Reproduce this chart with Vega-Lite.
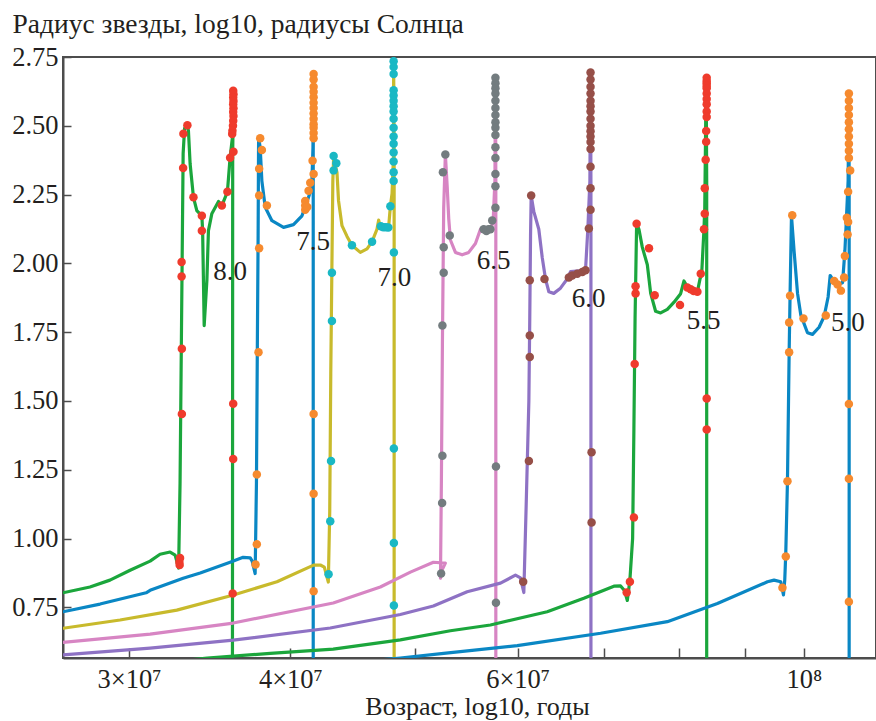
{
  "$schema": "https://vega.github.io/schema/vega-lite/v6.json",
  "width": 813,
  "height": 601,
  "autosize": "none",
  "padding": {"left": 63, "top": 57, "right": 0, "bottom": 63},
  "background": "white",
  "config": {
    "font": "Liberation Serif",
    "view": {"stroke": "#4d4d4d", "strokeWidth": 2},
    "axis": {
      "grid": false,
      "domainColor": "#4d4d4d",
      "domainWidth": 2,
      "tickColor": "#4d4d4d",
      "tickWidth": 1.5,
      "labelFont": "Liberation Serif",
      "labelFontSize": 26.5,
      "labelColor": "#231f20",
      "titleFont": "Liberation Serif",
      "titleFontSize": 26,
      "titleFontWeight": "normal",
      "titleColor": "#231f20"
    }
  },
  "datasets": {
    "tracks": [
      {"m":"8.0","lg":7.4259,"r":0.803},{"m":"8.0","lg":7.4468,"r":0.824},{"m":"8.0","lg":7.4623,"r":0.849},{"m":"8.0","lg":7.4779,"r":0.885},{"m":"8.0","lg":7.4934,"r":0.918},{"m":"8.0","lg":7.5011,"r":0.943},{"m":"8.0","lg":7.5089,"r":0.951},{"m":"8.0","lg":7.5128,"r":0.940},{"m":"8.0","lg":7.5155,"r":0.893},{"m":"8.0","lg":7.5166,"r":1.20},{"m":"8.0","lg":7.5174,"r":1.60},{"m":"8.0","lg":7.5182,"r":2.00},{"m":"8.0","lg":7.5190,"r":2.40},{"m":"8.0","lg":7.5201,"r":2.49},{"m":"8.0","lg":7.5218,"r":2.506},{"m":"8.0","lg":7.5231,"r":2.482},{"m":"8.0","lg":7.5244,"r":2.362},{"m":"8.0","lg":7.5270,"r":2.240},{"m":"8.0","lg":7.5296,"r":2.192},{"m":"8.0","lg":7.5335,"r":2.173},{"m":"8.0","lg":7.5341,"r":2.119},{"m":"8.0","lg":7.5353,"r":1.774},{"m":"8.0","lg":7.5374,"r":1.938},{"m":"8.0","lg":7.5386,"r":2.119},{"m":"8.0","lg":7.5412,"r":2.180},{"m":"8.0","lg":7.5464,"r":2.225},{"m":"8.0","lg":7.5490,"r":2.210},{"m":"8.0","lg":7.5533,"r":2.260},{"m":"8.0","lg":7.5554,"r":2.385},{"m":"8.0","lg":7.5575,"r":2.470},{"m":"8.0","lg":7.5580,"r":2.630},{"m":"8.0","lg":7.5574,"r":2.400},{"m":"8.0","lg":7.5572,"r":0.400},

      {"m":"7.5","lg":7.4259,"r":0.734},{"m":"7.5","lg":7.4546,"r":0.762},{"m":"7.5","lg":7.4903,"r":0.803},{"m":"7.5","lg":7.4934,"r":0.812},{"m":"7.5","lg":7.5190,"r":0.856},{"m":"7.5","lg":7.5322,"r":0.875},{"m":"7.5","lg":7.5554,"r":0.914},{"m":"7.5","lg":7.5655,"r":0.932},{"m":"7.5","lg":7.5710,"r":0.930},{"m":"7.5","lg":7.5725,"r":0.918},{"m":"7.5","lg":7.5748,"r":0.873},{"m":"7.5","lg":7.5758,"r":1.20},{"m":"7.5","lg":7.5765,"r":1.70},{"m":"7.5","lg":7.5771,"r":2.10},{"m":"7.5","lg":7.5774,"r":2.40},{"m":"7.5","lg":7.5775,"r":2.457},{"m":"7.5","lg":7.5787,"r":2.421},{"m":"7.5","lg":7.5800,"r":2.300},{"m":"7.5","lg":7.5826,"r":2.204},{"m":"7.5","lg":7.5878,"r":2.155},{"m":"7.5","lg":7.5968,"r":2.131},{"m":"7.5","lg":7.6045,"r":2.141},{"m":"7.5","lg":7.6111,"r":2.173},{"m":"7.5","lg":7.6144,"r":2.216},{"m":"7.5","lg":7.6170,"r":2.252},{"m":"7.5","lg":7.6188,"r":2.300},{"m":"7.5","lg":7.6196,"r":2.421},{"m":"7.5","lg":7.6201,"r":2.690},{"m":"7.5","lg":7.6198,"r":2.400},{"m":"7.5","lg":7.6198,"r":0.400},

      {"m":"7.0","lg":7.4259,"r":0.674},{"m":"7.0","lg":7.4701,"r":0.704},{"m":"7.0","lg":7.5141,"r":0.740},{"m":"7.0","lg":7.5580,"r":0.795},{"m":"7.0","lg":7.5917,"r":0.843},{"m":"7.0","lg":7.6201,"r":0.9035},{"m":"7.0","lg":7.6253,"r":0.904},{"m":"7.0","lg":7.6284,"r":0.896},{"m":"7.0","lg":7.6315,"r":0.842},{"m":"7.0","lg":7.6326,"r":1.10},{"m":"7.0","lg":7.6334,"r":1.60},{"m":"7.0","lg":7.6343,"r":2.00},{"m":"7.0","lg":7.6350,"r":2.30},{"m":"7.0","lg":7.6356,"r":2.383},{"m":"7.0","lg":7.6382,"r":2.331},{"m":"7.0","lg":7.6394,"r":2.228},{"m":"7.0","lg":7.6421,"r":2.137},{"m":"7.0","lg":7.6460,"r":2.098},{"m":"7.0","lg":7.6498,"r":2.066},{"m":"7.0","lg":7.6563,"r":2.040},{"m":"7.0","lg":7.6615,"r":2.053},{"m":"7.0","lg":7.6654,"r":2.079},{"m":"7.0","lg":7.6692,"r":2.124},{"m":"7.0","lg":7.6705,"r":2.157},{"m":"7.0","lg":7.6718,"r":2.131},{"m":"7.0","lg":7.6782,"r":2.131},{"m":"7.0","lg":7.6796,"r":2.208},{"m":"7.0","lg":7.6809,"r":2.254},{"m":"7.0","lg":7.6821,"r":2.400},{"m":"7.0","lg":7.6821,"r":2.735},{"m":"7.0","lg":7.6825,"r":2.400},{"m":"7.0","lg":7.6825,"r":0.400},

      {"m":"6.5","lg":7.4259,"r":0.623},{"m":"6.5","lg":7.4934,"r":0.653},{"m":"6.5","lg":7.5578,"r":0.693},{"m":"6.5","lg":7.6353,"r":0.766},{"m":"6.5","lg":7.6718,"r":0.824},{"m":"6.5","lg":7.6951,"r":0.878},{"m":"6.5","lg":7.7129,"r":0.914},{"m":"6.5","lg":7.7222,"r":0.911},{"m":"6.5","lg":7.7195,"r":0.885},{"m":"6.5","lg":7.7184,"r":0.856},{"m":"6.5","lg":7.7191,"r":1.20},{"m":"6.5","lg":7.7199,"r":1.70},{"m":"6.5","lg":7.7209,"r":2.20},{"m":"6.5","lg":7.7222,"r":2.396},{"m":"6.5","lg":7.7236,"r":2.280},{"m":"6.5","lg":7.7248,"r":2.163},{"m":"6.5","lg":7.7261,"r":2.085},{"m":"6.5","lg":7.7300,"r":2.040},{"m":"6.5","lg":7.7352,"r":2.031},{"m":"6.5","lg":7.7403,"r":2.040},{"m":"6.5","lg":7.7455,"r":2.072},{"m":"6.5","lg":7.7494,"r":2.124},{"m":"6.5","lg":7.7517,"r":2.130},{"m":"6.5","lg":7.7571,"r":2.124},{"m":"6.5","lg":7.7592,"r":2.150},{"m":"6.5","lg":7.7606,"r":2.300},{"m":"6.5","lg":7.7610,"r":2.680},{"m":"6.5","lg":7.7613,"r":2.300},{"m":"6.5","lg":7.7613,"r":0.400},

      {"m":"6.0","lg":7.4259,"r":0.577},{"m":"6.0","lg":7.4934,"r":0.602},{"m":"6.0","lg":7.5578,"r":0.631},{"m":"6.0","lg":7.6330,"r":0.675},{"m":"6.0","lg":7.6873,"r":0.724},{"m":"6.0","lg":7.7129,"r":0.755},{"m":"6.0","lg":7.7391,"r":0.807},{"m":"6.0","lg":7.7649,"r":0.838},{"m":"6.0","lg":7.7765,"r":0.867},{"m":"6.0","lg":7.7804,"r":0.857},{"m":"6.0","lg":7.7830,"r":0.804},{"m":"6.0","lg":7.7847,"r":1.10},{"m":"6.0","lg":7.7869,"r":1.50},{"m":"6.0","lg":7.7876,"r":1.80},{"m":"6.0","lg":7.7882,"r":2.10},{"m":"6.0","lg":7.7887,"r":2.247},{"m":"6.0","lg":7.7907,"r":2.189},{"m":"6.0","lg":7.7946,"r":2.124},{"m":"6.0","lg":7.7973,"r":2.020},{"m":"6.0","lg":7.7998,"r":1.943},{"m":"6.0","lg":7.8024,"r":1.897},{"m":"6.0","lg":7.8062,"r":1.891},{"m":"6.0","lg":7.8114,"r":1.910},{"m":"6.0","lg":7.8166,"r":1.943},{"m":"6.0","lg":7.8192,"r":1.970},{"m":"6.0","lg":7.8308,"r":1.975},{"m":"6.0","lg":7.8326,"r":2.124},{"m":"6.0","lg":7.8342,"r":2.300},{"m":"6.0","lg":7.8347,"r":2.690},{"m":"6.0","lg":7.8350,"r":2.300},{"m":"6.0","lg":7.8350,"r":0.400},

      {"m":"5.5","lg":7.5166,"r":0.555},{"m":"5.5","lg":7.5376,"r":0.566},{"m":"5.5","lg":7.5865,"r":0.583},{"m":"5.5","lg":7.6353,"r":0.598},{"m":"5.5","lg":7.6873,"r":0.632},{"m":"5.5","lg":7.7261,"r":0.665},{"m":"5.5","lg":7.7571,"r":0.686},{"m":"5.5","lg":7.8011,"r":0.734},{"m":"5.5","lg":7.8295,"r":0.783},{"m":"5.5","lg":7.8528,"r":0.827},{"m":"5.5","lg":7.8580,"r":0.828},{"m":"5.5","lg":7.8611,"r":0.810},{"m":"5.5","lg":7.8632,"r":0.775},{"m":"5.5","lg":7.8652,"r":0.850},{"m":"5.5","lg":7.8673,"r":1.000},{"m":"5.5","lg":7.8683,"r":1.400},{"m":"5.5","lg":7.8692,"r":1.800},{"m":"5.5","lg":7.8704,"r":2.144},{"m":"5.5","lg":7.8722,"r":2.124},{"m":"5.5","lg":7.8748,"r":2.059},{"m":"5.5","lg":7.8787,"r":1.995},{"m":"5.5","lg":7.8813,"r":1.891},{"m":"5.5","lg":7.8851,"r":1.826},{"m":"5.5","lg":7.8890,"r":1.820},{"m":"5.5","lg":7.8942,"r":1.833},{"m":"5.5","lg":7.8994,"r":1.859},{"m":"5.5","lg":7.9045,"r":1.890},{"m":"5.5","lg":7.9071,"r":1.936},{"m":"5.5","lg":7.9097,"r":1.915},{"m":"5.5","lg":7.9175,"r":1.897},{"m":"5.5","lg":7.9195,"r":1.943},{"m":"5.5","lg":7.9208,"r":1.960},{"m":"5.5","lg":7.9226,"r":2.124},{"m":"5.5","lg":7.9232,"r":2.200},{"m":"5.5","lg":7.9243,"r":2.670},{"m":"5.5","lg":7.9247,"r":2.300},{"m":"5.5","lg":7.9247,"r":0.400},

      {"m":"5.0","lg":7.6563,"r":0.552},{"m":"5.0","lg":7.6873,"r":0.566},{"m":"5.0","lg":7.7209,"r":0.583},{"m":"5.0","lg":7.7779,"r":0.611},{"m":"5.0","lg":7.8425,"r":0.656},{"m":"5.0","lg":7.8942,"r":0.698},{"m":"5.0","lg":7.9330,"r":0.764},{"m":"5.0","lg":7.9718,"r":0.843},{"m":"5.0","lg":7.9769,"r":0.849},{"m":"5.0","lg":7.9821,"r":0.843},{"m":"5.0","lg":7.9842,"r":0.795},{"m":"5.0","lg":7.9852,"r":0.850},{"m":"5.0","lg":7.9860,"r":0.950},{"m":"5.0","lg":7.9873,"r":1.210},{"m":"5.0","lg":7.9886,"r":1.677},{"m":"5.0","lg":7.9893,"r":1.882},{"m":"5.0","lg":7.9904,"r":2.173},{"m":"5.0","lg":7.9924,"r":2.046},{"m":"5.0","lg":7.9951,"r":1.891},{"m":"5.0","lg":7.9976,"r":1.813},{"m":"5.0","lg":8.0028,"r":1.748},{"m":"5.0","lg":8.0067,"r":1.742},{"m":"5.0","lg":8.0118,"r":1.768},{"m":"5.0","lg":8.0157,"r":1.807},{"m":"5.0","lg":8.0188,"r":1.878},{"m":"5.0","lg":8.0204,"r":1.956},{"m":"5.0","lg":8.0222,"r":1.943},{"m":"5.0","lg":8.0261,"r":1.923},{"m":"5.0","lg":8.0300,"r":1.930},{"m":"5.0","lg":8.0318,"r":2.046},{"m":"5.0","lg":8.0326,"r":2.124},{"m":"5.0","lg":8.0343,"r":2.300},{"m":"5.0","lg":8.0349,"r":2.620},{"m":"5.0","lg":8.0351,"r":2.300},{"m":"5.0","lg":8.0351,"r":0.400}
    ],
    "models": [
      {"m":"8.0","lg":7.5161,"r":0.915},{"m":"8.0","lg":7.5166,"r":0.929},{"m":"8.0","lg":7.5163,"r":0.904},{"m":"8.0","lg":7.5180,"r":1.453},{"m":"8.0","lg":7.5180,"r":1.690},{"m":"8.0","lg":7.5178,"r":1.952},{"m":"8.0","lg":7.5178,"r":2.005},{"m":"8.0","lg":7.5190,"r":2.347},{"m":"8.0","lg":7.5192,"r":2.471},{"m":"8.0","lg":7.5223,"r":2.502},{"m":"8.0","lg":7.5270,"r":2.240},{"m":"8.0","lg":7.5335,"r":2.173},{"m":"8.0","lg":7.5335,"r":2.119},{"m":"8.0","lg":7.5490,"r":2.210},{"m":"8.0","lg":7.5533,"r":2.260},{"m":"8.0","lg":7.5554,"r":2.384},{"m":"8.0","lg":7.5580,"r":2.406},
      {"m":"8.0","lg":7.5578,"r":2.627},{"m":"8.0","lg":7.5580,"r":2.615},{"m":"8.0","lg":7.5578,"r":2.603},{"m":"8.0","lg":7.5580,"r":2.590},{"m":"8.0","lg":7.5578,"r":2.578},{"m":"8.0","lg":7.5580,"r":2.564},{"m":"8.0","lg":7.5578,"r":2.550},{"m":"8.0","lg":7.5580,"r":2.536},{"m":"8.0","lg":7.5578,"r":2.518},{"m":"8.0","lg":7.5576,"r":2.500},{"m":"8.0","lg":7.5572,"r":2.482},{"m":"8.0","lg":7.5570,"r":2.470},
      {"m":"8.0","lg":7.5578,"r":1.490},{"m":"8.0","lg":7.5578,"r":1.289},{"m":"8.0","lg":7.5574,"r":0.800},

      {"m":"7.5","lg":7.5751,"r":0.906},{"m":"7.5","lg":7.5761,"r":0.979},{"m":"7.5","lg":7.5761,"r":1.233},{"m":"7.5","lg":7.5774,"r":1.677},{"m":"7.5","lg":7.5779,"r":2.055},{"m":"7.5","lg":7.5779,"r":2.247},{"m":"7.5","lg":7.5779,"r":2.344},{"m":"7.5","lg":7.5800,"r":2.412},{"m":"7.5","lg":7.5787,"r":2.4545},{"m":"7.5","lg":7.5839,"r":2.210},{"m":"7.5","lg":7.6136,"r":2.227},{"m":"7.5","lg":7.6136,"r":2.210},{"m":"7.5","lg":7.6136,"r":2.195},{"m":"7.5","lg":7.6152,"r":2.205},{"m":"7.5","lg":7.6162,"r":2.264},{"m":"7.5","lg":7.6175,"r":2.293},{"m":"7.5","lg":7.6201,"r":2.325},{"m":"7.5","lg":7.6193,"r":2.373},
      {"m":"7.5","lg":7.6201,"r":2.688},{"m":"7.5","lg":7.6201,"r":2.668},{"m":"7.5","lg":7.6201,"r":2.642},{"m":"7.5","lg":7.6201,"r":2.624},{"m":"7.5","lg":7.6201,"r":2.604},{"m":"7.5","lg":7.6201,"r":2.584},{"m":"7.5","lg":7.6201,"r":2.565},{"m":"7.5","lg":7.6201,"r":2.545},{"m":"7.5","lg":7.6201,"r":2.526},{"m":"7.5","lg":7.6201,"r":2.506},{"m":"7.5","lg":7.6201,"r":2.493},{"m":"7.5","lg":7.6201,"r":2.474},{"m":"7.5","lg":7.6201,"r":2.455},
      {"m":"7.5","lg":7.6201,"r":1.453},{"m":"7.5","lg":7.6201,"r":1.163},{"m":"7.5","lg":7.6201,"r":0.809},

      {"m":"7.0","lg":7.6317,"r":0.870},{"m":"7.0","lg":7.6330,"r":1.063},{"m":"7.0","lg":7.6336,"r":1.282},{"m":"7.0","lg":7.6343,"r":1.791},{"m":"7.0","lg":7.6343,"r":1.966},{"m":"7.0","lg":7.6356,"r":2.338},{"m":"7.0","lg":7.6356,"r":2.390},{"m":"7.0","lg":7.6377,"r":2.364},{"m":"7.0","lg":7.6498,"r":2.066},{"m":"7.0","lg":7.6654,"r":2.079},{"m":"7.0","lg":7.6722,"r":2.135},{"m":"7.0","lg":7.6741,"r":2.131},{"m":"7.0","lg":7.6761,"r":2.131},{"m":"7.0","lg":7.6780,"r":2.130},{"m":"7.0","lg":7.6796,"r":2.208},
      {"m":"7.0","lg":7.6821,"r":2.735},{"m":"7.0","lg":7.6821,"r":2.714},{"m":"7.0","lg":7.6821,"r":2.688},{"m":"7.0","lg":7.6821,"r":2.629},{"m":"7.0","lg":7.6821,"r":2.610},{"m":"7.0","lg":7.6821,"r":2.591},{"m":"7.0","lg":7.6821,"r":2.571},{"m":"7.0","lg":7.6821,"r":2.552},{"m":"7.0","lg":7.6821,"r":2.526},{"m":"7.0","lg":7.6821,"r":2.493},{"m":"7.0","lg":7.6821,"r":2.461},{"m":"7.0","lg":7.6821,"r":2.435},{"m":"7.0","lg":7.6821,"r":2.403},{"m":"7.0","lg":7.6821,"r":2.370},{"m":"7.0","lg":7.6821,"r":2.331},{"m":"7.0","lg":7.6821,"r":2.299},
      {"m":"7.0","lg":7.6823,"r":2.040},{"m":"7.0","lg":7.6823,"r":1.327},{"m":"7.0","lg":7.6823,"r":0.984},{"m":"7.0","lg":7.6823,"r":0.757},

      {"m":"6.5","lg":7.7189,"r":0.873},{"m":"6.5","lg":7.7197,"r":1.129},{"m":"6.5","lg":7.7199,"r":1.301},{"m":"6.5","lg":7.7199,"r":1.774},{"m":"6.5","lg":7.7209,"r":1.966},{"m":"6.5","lg":7.7209,"r":2.059},{"m":"6.5","lg":7.7256,"r":2.101},{"m":"6.5","lg":7.7203,"r":2.331},{"m":"6.5","lg":7.7222,"r":2.396},{"m":"6.5","lg":7.7519,"r":2.124},{"m":"6.5","lg":7.7540,"r":2.118},{"m":"6.5","lg":7.7556,"r":2.124},{"m":"6.5","lg":7.7571,"r":2.124},{"m":"6.5","lg":7.7585,"r":2.156},{"m":"6.5","lg":7.7610,"r":2.202},
      {"m":"6.5","lg":7.7610,"r":2.675},{"m":"6.5","lg":7.7610,"r":2.655},{"m":"6.5","lg":7.7610,"r":2.636},{"m":"6.5","lg":7.7610,"r":2.617},{"m":"6.5","lg":7.7610,"r":2.591},{"m":"6.5","lg":7.7610,"r":2.565},{"m":"6.5","lg":7.7610,"r":2.539},{"m":"6.5","lg":7.7610,"r":2.513},{"m":"6.5","lg":7.7610,"r":2.493},{"m":"6.5","lg":7.7610,"r":2.467},{"m":"6.5","lg":7.7610,"r":2.422},{"m":"6.5","lg":7.7610,"r":2.383},{"m":"6.5","lg":7.7610,"r":2.325},{"m":"6.5","lg":7.7610,"r":2.280},
      {"m":"6.5","lg":7.7614,"r":1.262},{"m":"6.5","lg":7.7614,"r":0.767},

      {"m":"6.0","lg":7.7825,"r":0.843},{"m":"6.0","lg":7.7869,"r":1.282},{"m":"6.0","lg":7.7876,"r":1.660},{"m":"6.0","lg":7.7876,"r":1.738},{"m":"6.0","lg":7.7876,"r":1.939},{"m":"6.0","lg":7.7887,"r":2.247},{"m":"6.0","lg":7.7990,"r":1.943},{"m":"6.0","lg":7.8179,"r":1.949},{"m":"6.0","lg":7.8205,"r":1.956},{"m":"6.0","lg":7.8244,"r":1.962},{"m":"6.0","lg":7.8283,"r":1.969},{"m":"6.0","lg":7.8308,"r":1.975},{"m":"6.0","lg":7.8334,"r":2.127},
      {"m":"6.0","lg":7.8347,"r":2.694},{"m":"6.0","lg":7.8347,"r":2.668},{"m":"6.0","lg":7.8347,"r":2.642},{"m":"6.0","lg":7.8347,"r":2.617},{"m":"6.0","lg":7.8347,"r":2.591},{"m":"6.0","lg":7.8347,"r":2.571},{"m":"6.0","lg":7.8347,"r":2.552},{"m":"6.0","lg":7.8347,"r":2.526},{"m":"6.0","lg":7.8347,"r":2.500},{"m":"6.0","lg":7.8347,"r":2.480},{"m":"6.0","lg":7.8347,"r":2.461},{"m":"6.0","lg":7.8347,"r":2.441},{"m":"6.0","lg":7.8347,"r":2.416},{"m":"6.0","lg":7.8347,"r":2.351},{"m":"6.0","lg":7.8347,"r":2.273},{"m":"6.0","lg":7.8347,"r":2.195},
      {"m":"6.0","lg":7.8355,"r":1.314},{"m":"6.0","lg":7.8355,"r":1.058},

      {"m":"5.5","lg":7.8627,"r":0.804},{"m":"5.5","lg":7.8652,"r":0.8435},{"m":"5.5","lg":7.8683,"r":1.077},{"m":"5.5","lg":7.8689,"r":1.634},{"m":"5.5","lg":7.8696,"r":1.917},{"m":"5.5","lg":7.8696,"r":1.891},{"m":"5.5","lg":7.8704,"r":2.144},{"m":"5.5","lg":7.8800,"r":2.055},{"m":"5.5","lg":7.8844,"r":1.884},{"m":"5.5","lg":7.9040,"r":1.849},{"m":"5.5","lg":7.9097,"r":1.912},{"m":"5.5","lg":7.9123,"r":1.906},{"m":"5.5","lg":7.9146,"r":1.900},{"m":"5.5","lg":7.9175,"r":1.897},{"m":"5.5","lg":7.9201,"r":1.962},{"m":"5.5","lg":7.9226,"r":2.124},{"m":"5.5","lg":7.9232,"r":2.180},{"m":"5.5","lg":7.9232,"r":2.273},{"m":"5.5","lg":7.9239,"r":2.377},{"m":"5.5","lg":7.9243,"r":2.442},{"m":"5.5","lg":7.9243,"r":2.481},
      {"m":"5.5","lg":7.9247,"r":2.675},{"m":"5.5","lg":7.9247,"r":2.663},{"m":"5.5","lg":7.9247,"r":2.655},{"m":"5.5","lg":7.9247,"r":2.645},{"m":"5.5","lg":7.9247,"r":2.636},{"m":"5.5","lg":7.9247,"r":2.617},{"m":"5.5","lg":7.9247,"r":2.597},{"m":"5.5","lg":7.9247,"r":2.578},{"m":"5.5","lg":7.9247,"r":2.552},{"m":"5.5","lg":7.9247,"r":2.532},
      {"m":"5.5","lg":7.9247,"r":1.509},{"m":"5.5","lg":7.9247,"r":1.396},

      {"m":"5.0","lg":7.9834,"r":0.821},{"m":"5.0","lg":7.9860,"r":0.935},{"m":"5.0","lg":7.9873,"r":1.208},{"m":"5.0","lg":7.9886,"r":1.677},{"m":"5.0","lg":7.9886,"r":1.785},{"m":"5.0","lg":7.9893,"r":1.882},{"m":"5.0","lg":7.9910,"r":2.175},{"m":"5.0","lg":7.9997,"r":1.800},{"m":"5.0","lg":8.0170,"r":1.811},{"m":"5.0","lg":8.0235,"r":1.936},{"m":"5.0","lg":8.0261,"r":1.923},{"m":"5.0","lg":8.0287,"r":1.901},{"m":"5.0","lg":8.0312,"r":1.949},{"m":"5.0","lg":8.0318,"r":2.027},{"m":"5.0","lg":8.0339,"r":2.105},{"m":"5.0","lg":8.0343,"r":2.150},{"m":"5.0","lg":8.0333,"r":2.166},{"m":"5.0","lg":8.0343,"r":2.260},{"m":"5.0","lg":8.0359,"r":2.338},
      {"m":"5.0","lg":8.0349,"r":2.617},{"m":"5.0","lg":8.0349,"r":2.591},{"m":"5.0","lg":8.0349,"r":2.565},{"m":"5.0","lg":8.0349,"r":2.539},{"m":"5.0","lg":8.0349,"r":2.513},{"m":"5.0","lg":8.0349,"r":2.487},{"m":"5.0","lg":8.0349,"r":2.461},{"m":"5.0","lg":8.0349,"r":2.435},{"m":"5.0","lg":8.0349,"r":2.409},{"m":"5.0","lg":8.0349,"r":2.383},
      {"m":"5.0","lg":8.0349,"r":1.489},{"m":"5.0","lg":8.0349,"r":1.217},{"m":"5.0","lg":8.0349,"r":0.770}
    ],
    "masses": [
      {"m":"8.0","lg":7.5555,"r":1.967},
      {"m":"7.5","lg":7.6198,"r":2.079},
      {"m":"7.0","lg":7.6827,"r":1.948},
      {"m":"6.5","lg":7.7595,"r":2.010},
      {"m":"6.0","lg":7.8332,"r":1.872},
      {"m":"5.5","lg":7.9224,"r":1.792},
      {"m":"5.0","lg":8.0341,"r":1.785}
    ]
  },
  "encoding": {
    "x": {
      "field": "lg",
      "type": "quantitative",
      "scale": {"domain": [7.4259, 8.0559], "nice": false, "zero": false},
      "axis": {
        "title": "Возраст, log10, годы",
        "values": [7.4771, 7.6021, 7.699, 7.7782, 7.8451, 7.9031, 7.9542, 8.0],
        "labelExpr": "datum.value < 7.5 ? '3×10⁷' : datum.value < 7.65 ? '4×10⁷' : (datum.value > 7.77 && datum.value < 7.79) ? '6×10⁷' : datum.value > 7.99 ? '10⁸' : ''",
        "labelOverlap": false,
        "labelFlush": false,
        "tickSize": -10,
        "labelPadding": 18,
        "labelBaseline": "top",
        "titleX": 414,
        "titleY": 56,
        "titleAlign": "center",
        "titleBaseline": "alphabetic"
      }
    },
    "y": {
      "field": "r",
      "type": "quantitative",
      "scale": {"domain": [0.566, 2.75], "nice": false, "zero": false},
      "axis": {
        "title": "Радиус звезды, log10, радиусы Солнца",
        "titleFontSize": 27.5,
        "values": [0.75, 1.0, 1.25, 1.5, 1.75, 2.0, 2.25, 2.5, 2.75],
        "format": ".2f",
        "labelOverlap": false,
        "labelFlush": false,
        "tickSize": -8,
        "labelPadding": 13,
        "titleAngle": 0,
        "titleAlign": "left",
        "titleBaseline": "alphabetic",
        "titleX": -51,
        "titleY": -25
      }
    }
  },
  "layer": [
    {
      "data": {"name": "tracks"},
      "mark": {"type": "line", "clip": true, "strokeWidth": 3.2, "strokeCap": "round", "strokeJoin": "round"},
      "encoding": {
        "color": {
          "field": "m",
          "type": "nominal",
          "legend": null,
          "scale": {
            "domain": ["8.0", "7.5", "7.0", "6.5", "6.0", "5.5", "5.0"],
            "range": ["#1ba63c", "#0a87c4", "#c8ba2c", "#d785c3", "#8e72c4", "#1ba63c", "#0a87c4"]
          }
        },
        "detail": {"field": "m"},
        "order": {"value": null}
      }
    },
    {
      "data": {"name": "models"},
      "mark": {"type": "circle", "clip": true, "size": 72, "opacity": 1},
      "encoding": {
        "color": {
          "field": "m",
          "type": "nominal",
          "legend": null,
          "scale": {
            "domain": ["8.0", "7.5", "7.0", "6.5", "6.0", "5.5", "5.0"],
            "range": ["#ef3b2c", "#f68a2e", "#19b8c4", "#737c7f", "#964f48", "#ef3b2c", "#f68a2e"]
          }
        }
      }
    },
    {
      "data": {"name": "masses"},
      "mark": {"type": "text", "font": "Liberation Serif", "fontSize": 27, "color": "#231f20", "align": "center", "baseline": "middle"},
      "encoding": {
        "text": {"field": "m"}
      }
    }
  ],
  "resolve": {"scale": {"color": "independent"}}
}
